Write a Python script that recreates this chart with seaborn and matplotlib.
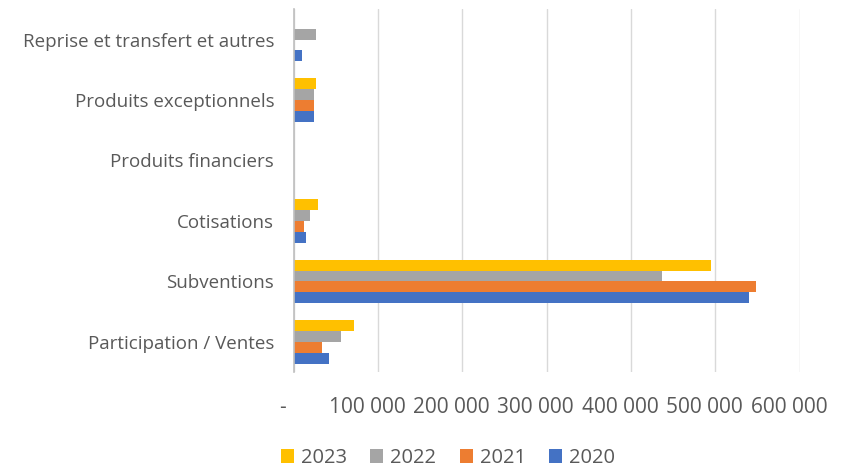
import pandas as pd
import numpy as np
import matplotlib.pyplot as plt
import matplotlib.transforms as mtransforms
import seaborn as sns
from matplotlib.ticker import FuncFormatter

# data (euros)
categories = ["Reprise et transfert et autres", "Produits exceptionnels",
              "Produits financiers", "Cotisations", "Subventions",
              "Participation / Ventes"]
years = ["2023", "2022", "2021", "2020"]
v2023 = [0, 26000, 0, 29500, 495000, 72000]
v2022 = [26000, 24000, 0, 19300, 437000, 56000]
v2021 = [0, 24000, 0, 11800, 548500, 34000]
v2020 = [9500, 24000, 0, 15000, 539500, 42000]
colors = ["#FFC000", "#A5A5A5", "#ED7D31", "#4472C4"]

rows = []
for yr, vals in zip(years, [v2023, v2022, v2021, v2020]):
    for cat, v in zip(categories, vals):
        rows.append({"cat": cat, "year": yr, "value": v})
df = pd.DataFrame(rows)

sns.set_style("white")
plt.rcParams['font.family'] = ['Open Sans', 'DejaVu Sans']

fig, ax = plt.subplots(figsize=(8.61, 4.68), dpi=100)
fig.subplots_adjust(left=0.341, right=0.929, top=0.98, bottom=0.205)

sns.barplot(data=df, y="cat", x="value", hue="year", order=categories,
            hue_order=years, palette=colors, width=0.72, orient="h",
            saturation=1, linewidth=0, ax=ax, legend=True)

ax.set_xlim(0, 600000)
ax.set_xticks(np.arange(0, 600001, 100000))
ax.xaxis.set_major_formatter(FuncFormatter(
    lambda v, p: "-" if v == 0 else f"{int(v):,}".replace(",", " ")))
ax.grid(axis="x", color="#d9d9d9", linewidth=1)
ax.set_axisbelow(True)
for s in ["top", "right", "bottom"]:
    ax.spines[s].set_visible(False)
ax.spines["left"].set_color("#bfbfbf")
ax.spines["left"].set_linewidth(1.2)
ax.tick_params(axis="y", length=0, labelsize=13.5, colors="#595959", pad=14)
ax.tick_params(axis="x", length=0, labelsize=15, colors="#595959", pad=18)
ax.set_xlabel("")
ax.set_ylabel("")

# excel-style accounting labels sit a bit left of the gridline
shift = mtransforms.ScaledTranslation(-11 / 100, 0, fig.dpi_scale_trans)
for lbl in ax.get_xticklabels():
    lbl.set_transform(lbl.get_transform() + shift)

handles, labels = ax.get_legend_handles_labels()
ax.legend(handles, labels, loc="upper center", bbox_to_anchor=(0.305, -0.21),
          ncol=4, frameon=False, fontsize=14.5, handlelength=0.65,
          handleheight=0.65, handletextpad=0.35, columnspacing=1.15,
          labelcolor="#595959", borderaxespad=0, borderpad=0)

plt.savefig("out.png", dpi=100)
